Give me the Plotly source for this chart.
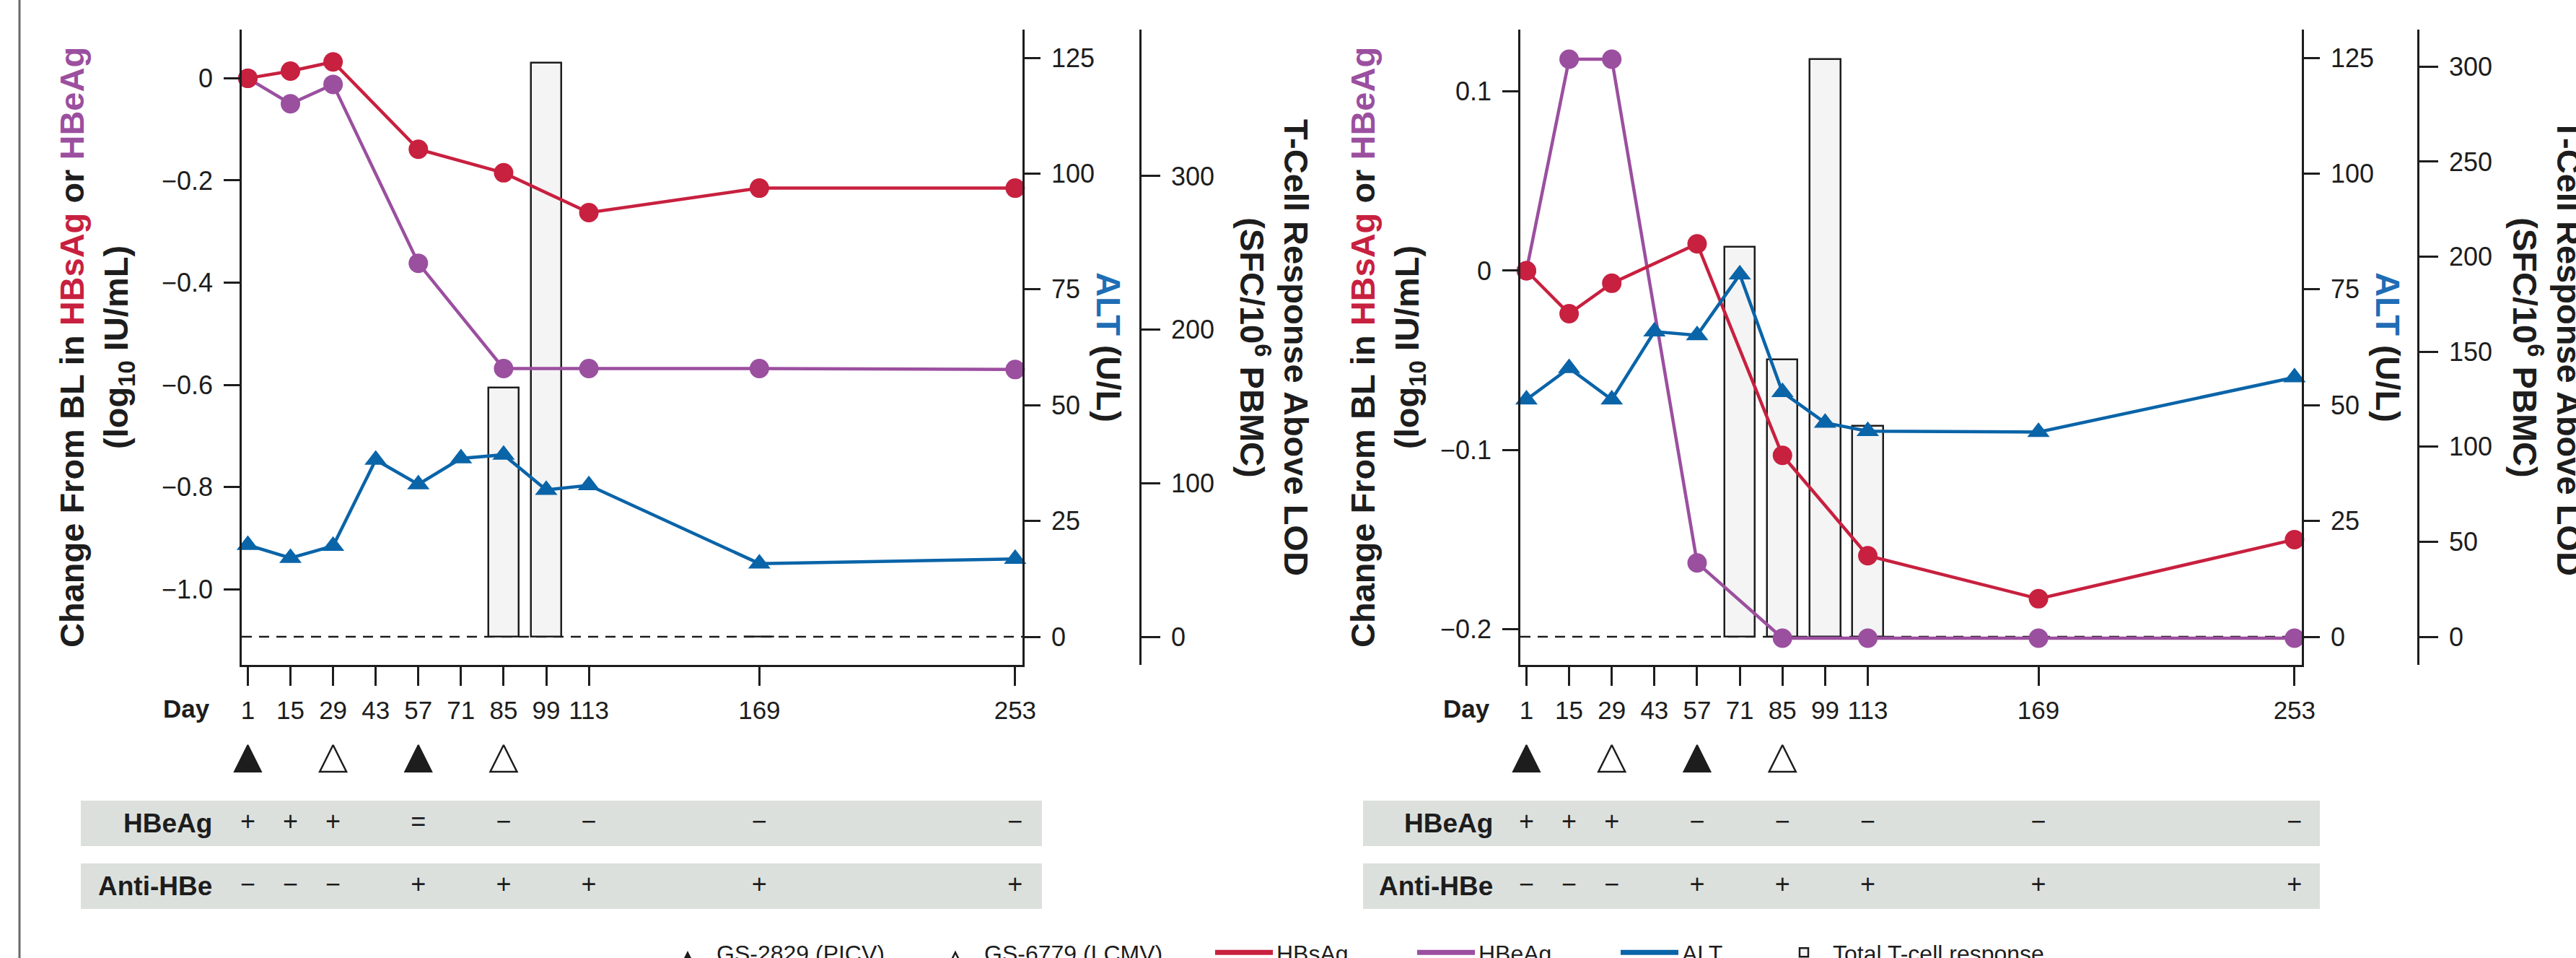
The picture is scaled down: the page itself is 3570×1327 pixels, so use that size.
import plotly.graph_objects as go

W, H = 3570, 1327


def px(x):
    return x / W


def py(y):
    return 1 - y / H


FONT = "Liberation Sans, Arial, Helvetica, sans-serif"
RED = "#C8203F"
PURPLE = "#9B4F9F"
BLUE = "#0A64A8"
BLUE_T = "#1F6DB5"
INK = "#1d1d1d"
BAR_FILL = "#F4F4F4"
ROW_FILL = "#DCE0DD"

# ---------------- data ----------------
TICK_DAYS = [1, 15, 29, 43, 57, 71, 85, 99, 113, 169, 253]
TICK_TEXT = ["1", "15", "29", "43", "57", "71", "85", "99", "113", "169", "253"]

DAYS_AG = [1, 15, 29, 57, 85, 113, 169, 253]
DAYS_ALT = [1, 15, 29, 43, 57, 71, 85, 99, 113, 169, 253]

# Left patient
L_HBSAG = [0.0, 0.014, 0.032, -0.139, -0.185, -0.263, -0.215, -0.215]
L_HBEAG = [0.0, -0.050, -0.012, -0.362, -0.568, -0.568, -0.568, -0.570]
L_ALT = [19.8, 17.0, 19.6, 38.2, 32.9, 38.5, 39.3, 31.7, 32.7, 15.8, 16.8]
L_TCELL_DAYS = [85, 99, 169]
L_TCELL = [162, 374, 0]

# Right patient
R_HBSAG = [0.0, -0.024, -0.007, 0.015, -0.103, -0.159, -0.183, -0.150]
R_HBEAG = [0.0, 0.118, 0.118, -0.163, -0.205, -0.205, -0.205, -0.205]
R_ALT = [51.2, 58.0, 51.2, 65.9, 65.1, 78.2, 52.8, 46.2, 44.4, 44.2, 56.0]
R_TCELL_DAYS = [71, 85, 99, 113]
R_TCELL = [205, 146, 304, 111]

# Dosing
PICV_DAYS = [1, 57]   # GS-2829 (PICV), filled
LCMV_DAYS = [29, 85]  # GS-6779 (LCMV), open
DOSE_LEVEL = 1

# Serology table
ROW_DAYS = [1, 15, 29, 57, 85, 113, 169, 253]
L_HBEAG_ROW = ["+", "+", "+", "=", "\u2212", "\u2212", "\u2212", "\u2212"]
L_ANTI_ROW = ["\u2212", "\u2212", "\u2212", "+", "+", "+", "+", "+"]
R_HBEAG_ROW = ["+", "+", "+", "\u2212", "\u2212", "\u2212", "\u2212", "\u2212"]
R_ANTI_ROW = ["\u2212", "\u2212", "\u2212", "+", "+", "+", "+", "+"]
ROW_LEVELS = {"HBeAg": 1, "Anti-HBe": 0}

# Axis ticks
L_YTICKS = [0, -0.2, -0.4, -0.6, -0.8, -1.0]
L_YTEXT = ["0", "\u22120.2", "\u22120.4", "\u22120.6", "\u22120.8", "\u22121.0"]
R_YTICKS = [0.1, 0, -0.1, -0.2]
R_YTEXT = ["0.1", "0", "\u22120.1", "\u22120.2"]
ALT_TICKS = [0, 25, 50, 75, 100, 125]
L_TC_TICKS = [0, 100, 200, 300]
R_TC_TICKS = [0, 50, 100, 150, 200, 250, 300]

# ---------------- layout geometry ----------------
PLOT_TOP, PLOT_BOT = 41, 921
DOM = [py(PLOT_BOT), py(PLOT_TOP)]
XRANGE = [-1.0, 255.4]

fig = go.Figure()

MS_CIRCLE = 27
MS_TRI = 27
LW = 4.5


def add_panel(tc_days, tc_vals, hbs, hbe, alt, yb, yv, ya, xa, show_leg):
    # bars (base subplot -> drawn beneath the lines)
    fig.add_trace(go.Bar(
        x=tc_days, y=tc_vals, width=10, xaxis=xa, yaxis=yb,
        marker=dict(color=BAR_FILL, line=dict(color=INK, width=2.5)),
        name="Total T-cell response", showlegend=show_leg, legend="legend6",
    ))
    fig.add_trace(go.Scatter(
        x=DAYS_ALT, y=alt, xaxis=xa, yaxis=ya, mode="lines+markers",
        line=dict(color=BLUE, width=LW),
        marker=dict(symbol="triangle-up", size=MS_TRI, color=BLUE),
        showlegend=False, cliponaxis=False,
    ))
    fig.add_trace(go.Scatter(
        x=DAYS_AG, y=hbe, xaxis=xa, yaxis=yv, mode="lines+markers",
        line=dict(color=PURPLE, width=LW),
        marker=dict(symbol="circle", size=MS_CIRCLE, color=PURPLE),
        showlegend=False, cliponaxis=False,
    ))
    fig.add_trace(go.Scatter(
        x=DAYS_AG, y=hbs, xaxis=xa, yaxis=yv, mode="lines+markers",
        line=dict(color=RED, width=LW),
        marker=dict(symbol="circle", size=MS_CIRCLE, color=RED),
        showlegend=False, cliponaxis=False,
    ))


add_panel(L_TCELL_DAYS, L_TCELL, L_HBSAG, L_HBEAG, L_ALT, "y", "y2", "y3", "x", True)
add_panel(R_TCELL_DAYS, R_TCELL, R_HBSAG, R_HBEAG, R_ALT, "y4", "y5", "y6", "x2", False)

# dose triangles
for xa, ya, leg in (("x", "y7", True), ("x2", "y8", False)):
    fig.add_trace(go.Scatter(
        x=PICV_DAYS, y=[DOSE_LEVEL] * len(PICV_DAYS), xaxis=xa, yaxis=ya, mode="markers",
        marker=dict(symbol="arrow-up", size=37, color=INK, line=dict(color=INK, width=2)),
        name="GS-2829 (PICV)", showlegend=leg, legend="legend", cliponaxis=False,
    ))
    fig.add_trace(go.Scatter(
        x=LCMV_DAYS, y=[DOSE_LEVEL] * len(LCMV_DAYS), xaxis=xa, yaxis=ya, mode="markers",
        marker=dict(symbol="arrow-up", size=37, color="white", line=dict(color=INK, width=2.5)),
        name="GS-6779 (LCMV)", showlegend=leg, legend="legend2", cliponaxis=False,
    ))

# serology rows
for xa, ya, r1, r2 in (("x", "y9", L_HBEAG_ROW, L_ANTI_ROW), ("x2", "y10", R_HBEAG_ROW, R_ANTI_ROW)):
    for vals, lvl in ((r1, ROW_LEVELS["HBeAg"]), (r2, ROW_LEVELS["Anti-HBe"])):
        fig.add_trace(go.Scatter(
            x=ROW_DAYS, y=[lvl] * len(ROW_DAYS), xaxis=xa, yaxis=ya, mode="text",
            text=vals, textposition="middle center",
            textfont=dict(family=FONT, size=36, color=INK),
            showlegend=False, cliponaxis=False,
        ))

# legend-only line keys
for nm, col, lg in (("HBsAg", RED, "legend3"), ("HBeAg", PURPLE, "legend4"), ("ALT", BLUE, "legend5")):
    fig.add_trace(go.Scatter(
        x=[None], y=[None], xaxis="x", yaxis="y2", mode="lines",
        line=dict(color=col, width=7), name=nm, legend=lg,
    ))

# ---------------- axes ----------------
AX = dict(showgrid=False, zeroline=False, showline=True, linecolor=INK, linewidth=2.5,
          ticks="outside", tickwidth=2.5, tickcolor=INK, ticklen=22, ticklabelstandoff=8,
          tickfont=dict(family=FONT, size=36, color=INK))

xcommon = dict(AX, range=XRANGE, tickvals=TICK_DAYS, ticktext=TICK_TEXT, ticklen=26,
               tickfont=dict(family=FONT, size=35, color=INK), ticklabelstandoff=4)

L_DOM_X = [px(335), px(1417)]
R_DOM_X = [px(2107), px(3190)]

fig.update_layout(
    xaxis=dict(xcommon, domain=L_DOM_X, anchor="y2"),
    xaxis2=dict(xcommon, domain=R_DOM_X, anchor="y5"),
    # left panel
    yaxis=dict(AX, domain=DOM, anchor="free", position=px(1580), side="right",
               range=[-18.3, 395.4], tickvals=L_TC_TICKS, ticklen=26),
    yaxis2=dict(AX, domain=DOM, overlaying="y", anchor="x", side="left",
                range=[-1.148, 0.0952], tickvals=L_YTICKS, ticktext=L_YTEXT),
    yaxis3=dict(AX, domain=DOM, overlaying="y", anchor="x", side="right",
                range=[-6.08, 131.1], tickvals=ALT_TICKS),
    # right panel
    yaxis4=dict(AX, domain=DOM, anchor="free", position=px(3351), side="right",
                range=[-14.8, 319.5], tickvals=R_TC_TICKS, ticklen=26),
    yaxis5=dict(AX, domain=DOM, overlaying="y4", anchor="x2", side="left",
                range=[-0.2199, 0.1345], tickvals=R_YTICKS, ticktext=R_YTEXT),
    yaxis6=dict(AX, domain=DOM, overlaying="y4", anchor="x2", side="right",
                range=[-6.08, 131.1], tickvals=ALT_TICKS),
    # dose rows
    yaxis7=dict(domain=[py(1085), py(1032)], anchor="x", range=[0, 1], visible=False),
    yaxis8=dict(domain=[py(1085), py(1032)], anchor="x2", range=[0, 1], visible=False),
    # serology rows
    yaxis9=dict(domain=[py(1259), py(1109)], anchor="x", range=[-0.362, 1.362], visible=False),
    yaxis10=dict(domain=[py(1259), py(1109)], anchor="x2", range=[-0.362, 1.362], visible=False),
)

# ---------------- shapes ----------------
shapes = []
shapes.append(dict(type="line", xref="paper", yref="paper", x0=px(27), x1=px(27), y0=0, y1=1,
                   line=dict(color="#6b6b6b", width=3)))
for xd, yr in (("x domain", "y"), ("x2 domain", "y4")):
    shapes.append(dict(type="line", xref=xd, yref=yr, x0=0, x1=1, y0=0, y1=0, layer="below",
                       line=dict(color=INK, width=2.5, dash="14px,10px")))
for x0, x1 in ((112, 1444), (1889, 3215)):
    for y0, y1 in ((1109, 1172), (1196, 1259)):
        shapes.append(dict(type="rect", xref="paper", yref="paper", x0=px(x0), x1=px(x1),
                           y0=py(y1), y1=py(y0), fillcolor=ROW_FILL, line=dict(width=0),
                           layer="below"))
fig.update_layout(shapes=shapes)

# ---------------- annotations ----------------
TF = dict(family=FONT, size=47, color=INK)
LEFT_TITLE = ("<b>Change From BL in <span style='color:%s'>HBsAg</span> or "
              "<span style='color:%s'>HBeAg</span><br>(log<sub>10</sub> IU/mL)</b>" % (RED, PURPLE))
ALT_TITLE = "<b><span style='color:%s'>ALT</span> (U/L)</b>" % BLUE_T
TC_TITLE = "<b>T-Cell Response Above LOD<br>(SFC/10<sup>6</sup> PBMC)</b>"

ann = []
ymid = py(481)
for x, txt, ang in ((133, LEFT_TITLE, -90), (1537, ALT_TITLE, 90), (1766, TC_TITLE, 90),
                    (1922, LEFT_TITLE, -90), (3310, ALT_TITLE, 90), (3530, TC_TITLE, 90)):
    ann.append(dict(xref="paper", yref="paper", x=px(x), y=ymid, text=txt, textangle=ang,
                    showarrow=False, xanchor="center", yanchor="middle", font=TF))
for x in (258, 2032):
    ann.append(dict(xref="paper", yref="paper", x=px(x), y=py(981), text="<b>Day</b>",
                    showarrow=False, xanchor="center", yanchor="middle",
                    font=dict(family=FONT, size=35, color=INK)))
for xr in (296, 2071):
    for lbl, yc in (("HBeAg", 1140), ("Anti-HBe", 1227)):
        ann.append(dict(xref="paper", yref="paper", x=px(xr), y=py(yc), text="<b>%s</b>" % lbl,
                        showarrow=False, xanchor="right", yanchor="middle",
                        font=dict(family=FONT, size=37, color=INK)))
fig.update_layout(annotations=ann)

# ---------------- legends (one per entry, for exact placement) ----------------
LEG_Y = py(1292)
LEG = dict(orientation="h", y=LEG_Y, yanchor="top", xanchor="left",
           font=dict(family=FONT, size=32, color=INK), bgcolor="rgba(0,0,0,0)",
           borderwidth=0, itemsizing="trace")

fig.update_layout(
    width=W, height=H, autosize=False,
    margin=dict(l=0, r=0, t=0, b=0, autoexpand=False),
    paper_bgcolor="white", plot_bgcolor="rgba(0,0,0,0)",
    font=dict(family=FONT, color=INK),
    bargap=0,
    showlegend=True,
    legend=dict(LEG, x=px(913), itemwidth=70),
    legend2=dict(LEG, x=px(1284), itemwidth=70),
    legend3=dict(LEG, x=px(1679), itemwidth=80),
    legend4=dict(LEG, x=px(1959), itemwidth=80),
    legend5=dict(LEG, x=px(2241), itemwidth=80),
    legend6=dict(LEG, x=px(2460), itemwidth=70),
)

fig.write_html(
    "out.html",
    config={"displayModeBar": False, "responsive": False},
    post_script="document.body.style.margin='0';document.body.style.padding='0';"
                "document.body.style.overflow='hidden';",
)
